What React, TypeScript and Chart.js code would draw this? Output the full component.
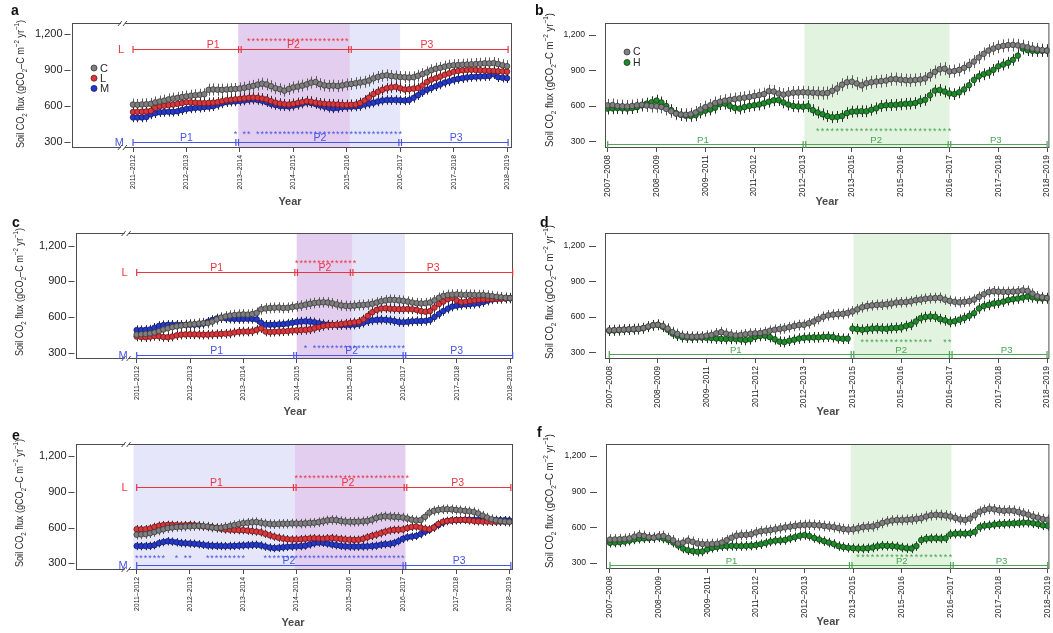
import { useEffect, useRef } from 'react';
import { Chart, registerables } from 'chart.js';

Chart.register(...registerables);

const FONT = '"Liberation Sans", Arial, Helvetica, sans-serif';
Chart.defaults.font.family = FONT;

// ---------- tick labels ----------
const SEASONS_11_19 = ['2011–2012', '2012–2013', '2013–2014', '2014–2015', '2015–2016', '2016–2017', '2017–2018', '2018–2019'];
const SEASONS_07_19 = ['2007–2008', '2008–2009', '2009–2011', '2011–2012', '2012–2013', '2013–2015', '2015–2016', '2016–2017', '2017–2018', '2018–2019'];
const Y_TICKS = [300, 600, 900, 1200];

// ---------- panel a (monthly, C / L / M) ----------
const aC = [
  612, 610, 613, 615, 618, 630, 638, 645, 655, 662, 668, 675,
  680, 686, 690, 694, 698, 735, 738, 736, 735, 738, 740, 742,
  746, 752, 760, 768, 778, 786, 780, 765, 748, 740, 728, 742,
  755, 762, 770, 780, 795, 800, 782, 772, 768, 770, 766, 772,
  780, 784, 790, 796, 802, 812, 830, 842, 852, 856, 850, 846,
  842, 840, 838, 840, 852, 866, 880, 898, 910, 918, 928, 936,
  940, 942, 944, 946, 948, 950, 952, 956, 955, 958, 950, 940, 932,
];
const aL = [
  550, 552, 553, 555, 560, 585, 598, 602, 608, 612, 618, 625,
  632, 630, 628, 625, 624, 626, 628, 632, 640, 648, 652, 656,
  660, 664, 668, 670, 668, 662, 655, 640, 628, 620, 615, 612,
  618, 625, 632, 640, 636, 628, 622, 618, 615, 614, 612, 610,
  608, 610, 612, 625, 645, 670, 700, 718, 735, 748, 755, 760,
  748, 738, 740, 745, 750, 770, 800, 820, 832, 845, 860, 872,
  885, 892, 898, 900, 902, 900, 898, 896, 894, 892, 890, 888, 886,
];
const aM = [
  505, 504, 505, 508, 530, 540, 548, 550, 552, 552, 556, 566,
  575, 580, 584, 586, 590, 594, 598, 610, 622, 632, 636, 638,
  642, 646, 652, 654, 650, 644, 632, 618, 608, 600, 598, 596,
  602, 610, 620, 630, 626, 616, 605, 595, 585, 580, 584, 590,
  592, 594, 596, 600, 612, 620, 628, 638, 646, 650, 650, 650,
  648, 646, 650, 668, 690, 715, 735, 750, 765, 780, 795, 806,
  818, 826, 832, 838, 842, 844, 846, 848, 850, 865, 840, 836, 832,
];

// ---------- panel c ----------
const cC = [
  452, 455, 458, 462, 470, 482, 495, 505, 515, 522, 528, 533,
  538, 540, 545, 548, 550, 562, 580, 595, 605, 612, 617, 620,
  622, 620, 625, 635, 665, 672, 676, 678, 680, 676, 678, 684,
  690, 696, 704, 712, 718, 722, 724, 722, 715, 706, 698, 694,
  692, 696, 700, 702, 705, 712, 722, 732, 740, 745, 744, 740,
  736, 730, 722, 716, 714, 716, 722, 740, 762, 778, 785, 788,
  790, 788, 786, 787, 786, 784, 785, 780, 776, 770, 766, 762, 760,
];
const cL = [
  436, 432, 430, 434, 440, 438, 432, 430, 436, 446, 452, 454,
  455, 454, 453, 452, 452, 454, 456, 458, 460, 462, 470, 476,
  478, 478, 480, 492, 505, 478, 474, 476, 478, 480, 482, 486,
  488, 490, 492, 496, 505, 515, 525, 530, 534, 536, 540, 545,
  550, 555, 560, 580, 610, 640, 660, 672, 674, 670, 668, 666,
  666, 668, 665, 660, 650, 645, 650, 680, 710, 730, 750, 762,
  740, 725, 728, 735, 740, 745, 748, 750, 752, 754, 755, 756, 758,
];
const cM = [
  490, 490, 492, 495, 510, 525, 532, 534, 535, 535, 534, 534,
  535, 536, 538, 545, 560, 575, 588, 592, 590, 586, 584, 583,
  584, 585, 584, 580, 552, 535, 535, 536, 538, 540, 545, 552,
  558, 562, 564, 562, 556, 548, 540, 536, 534, 532, 532, 533,
  534, 536, 540, 552, 565, 572, 576, 578, 576, 572, 566, 558,
  556, 560, 564, 566, 566, 568, 575, 600, 625, 650, 670, 688,
  696, 702, 706, 708, 712, 715, 725, 738, 748, 752, 755, 757, 758,
];

// ---------- panel e ----------
const eC = [
  540, 542, 545, 552, 562, 575, 585, 595, 600, 604, 606, 608,
  610, 612, 614, 612, 608, 600, 596, 598, 605, 612, 620, 628,
  636, 640, 644, 646, 640, 634, 630, 628, 630, 632, 632, 634,
  634, 633, 635, 638, 640, 645, 652, 660, 664, 662, 655, 650,
  648, 648, 650, 652, 656, 665, 680, 690, 694, 692, 690, 688,
  684, 676, 666, 660, 662, 690, 725, 740, 748, 752, 754, 752,
  748, 744, 740, 736, 730, 718, 700, 684, 670, 660, 654, 650, 648,
];
const eL = [
  586, 585, 586, 592, 605, 615, 620, 622, 622, 620, 618, 620,
  622, 620, 616, 610, 606, 604, 598, 590, 584, 582, 580, 578,
  578, 574, 570, 566, 560, 548, 535, 524, 515, 508, 502, 500,
  500, 502, 505, 508, 510, 508, 506, 510, 512, 508, 504, 500,
  498, 496, 498, 505, 518, 530, 540, 552, 565, 575, 580, 582,
  584, 595, 605, 608, 600, 590, 585, 600, 630, 648, 655, 660,
  662, 664, 665, 660, 655, 652, 650, 650, 648, 648, 648, 648, 648,
];
const eM = [
  445, 444, 445, 446, 452, 468, 478, 485, 482, 476, 470, 468,
  466, 464, 460, 455, 450, 448, 446, 445, 444, 445, 446, 448,
  450, 452, 454, 455, 450, 440, 432, 428, 430, 434, 438, 440,
  442, 444, 448, 458, 468, 474, 472, 466, 458, 452, 446, 442,
  440, 440, 440, 441, 442, 444, 448, 455, 460, 462, 470, 485,
  505, 518, 524, 530, 545, 565, 580, 600, 620, 640, 655, 660,
  662, 664, 665, 666, 665, 664, 662, 662, 662, 663, 662, 662, 660,
];

// ---------- panel b (C / H) ----------
const bC = [
  605, 608, 600, 598, 596, 600, 606, 610, 604, 600,
  598, 592, 575, 555, 535, 528, 526, 530, 545, 570,
  590, 605, 625, 636, 645, 652, 658, 664, 670, 676,
  684, 692, 700, 725, 722, 705, 696, 705, 712, 714,
  716, 714, 712, 710, 708, 710, 728, 748, 780, 800,
  805, 790, 775, 792, 800, 806, 810, 815, 826, 828,
  822, 818, 816, 820, 824, 832, 860, 888, 910, 915,
  892, 895, 905, 922, 945, 975, 1010, 1040, 1068, 1085,
  1100, 1108, 1114, 1116, 1112, 1105, 1095, 1085, 1078, 1072, 1068,
];
const bH = [
  578, 580, 582, 580, 578, 582, 590, 605, 620, 632,
  645, 630, 600, 565, 540, 525, 518, 516, 522, 545,
  560, 570, 585, 615, 620, 600, 584, 578, 590, 600,
  606, 612, 622, 636, 648, 650, 630, 612, 600, 596,
  594, 598, 565, 545, 530, 515, 505, 508, 515, 540,
  552, 554, 556, 555, 568, 580, 600, 606, 608, 610,
  614, 618, 620, 625, 640, 652, 690, 730, 735, 722,
  706, 700, 715, 740, 775, 820, 850, 868, 880, 905,
  935, 950, 965, 990, 1025, 1085, 1072, 1066, 1065, 1066, 1068,
];

// ---------- panel d ----------
const dC = [
  486, 488, 490, 492, 494, 496, 498, 505, 518, 528,
  532, 522, 500, 470, 455, 440, 434, 432, 432, 434,
  440, 446, 460, 470, 458, 450, 442, 446, 452, 458,
  460, 462, 470, 482, 490, 496, 502, 512, 522, 530,
  532, 545, 560, 580, 600, 612, 618, 622, 624, 632,
  645, 662, 680, 690, 696, 700, 702, 706, 712, 720,
  722, 724, 730, 740, 745, 752, 756, 758, 760, 745,
  734, 726, 722, 726, 732, 745, 768, 790, 808, 815,
  812, 810, 810, 812, 814, 822, 818, 795, 772, 765, 758,
];
const dH = [
  482, 484, 486, 490, 492, 494, 496, 502, 515, 528,
  532, 515, 490, 458, 440, 428, 424, 422, 424, 424,
  422, 420, 416, 414, 412, 414, 412, 408, 404, 410,
  430, 438, 440, 428, 410, 390, 386, 398, 406, 416,
  422, 424, 426, 426, 430, 432, 428, 418, 414, 415,
  500, 495, 490, 495, 500, 502, 500, 498, 504, 506,
  510, 522, 532, 560, 588, 598, 602, 600, 580, 570,
  556, 562, 575, 590, 608, 630, 670, 690, 700, 712,
  718, 728, 740, 748, 754, 762, 770, 764, 756, 754, 756,
];

// ---------- panel f ----------
const fC = [
  495, 496, 498, 500, 505, 520, 532, 526, 515, 512,
  522, 525, 508, 488, 462, 470, 486, 476, 462, 458,
  456, 458, 460, 470, 490, 510, 528, 534, 535, 540,
  555, 565, 570, 575, 582, 590, 598, 604, 610, 616,
  618, 620, 618, 615, 610, 605, 600, 592, 584, 580,
  582, 590, 600, 604, 606, 618, 635, 648, 656, 660,
  660, 662, 665, 670, 675, 690, 700, 704, 702, 698,
  690, 678, 665, 660, 672, 700, 730, 745, 755, 750,
  742, 738, 740, 738, 728, 716, 705, 690, 680, 668, 662,
];
const fH = [
  468, 470, 472, 478, 486, 496, 502, 505, 506, 510,
  514, 505, 490, 470, 445, 420, 405, 398, 392, 395,
  412, 425, 432, 438, 440, 442, 441, 440, 442, 444,
  448, 456, 466, 478, 486, 488, 492, 505, 515, 526,
  533, 525, 508, 496, 482, 470, 458, 440, 432, 426,
  422, 420, 420, 422, 428, 438, 444, 442, 440, 436,
  428, 422, 420, 440, 490, 502, 505, 506, 504, 506,
  540, 545, 546, 545, 548, 560, 600, 612, 615, 622,
  626, 628, 630, 632, 634, 638, 638, 632, 625, 615, 610,
];

// ---------- styles ----------
type Mark = { fill: string; edge: string; bar: string };
const GREY: Mark = { fill: '#7f7f7f', edge: '#383838', bar: '#5c5c5c' };
const RED_M: Mark = { fill: '#d8373c', edge: '#6e1616', bar: '#2b2b2b' };
const BLUE_M: Mark = { fill: '#2539c8', edge: '#111a6c', bar: '#2b2b2b' };
const GREEN_M: Mark = { fill: '#208a2c', edge: '#0c3e12', bar: '#2b2b2b' };

const RED = '#e8363f';
const BLUE = '#4855e4';
const GREEN = '#4ba553';
const PURPLE_BAND = '#e4cef0';
const LAVENDER_BAND = '#e6e6fb';
const GREEN_BAND = '#e2f3df';
const AXIS = '#4d4d4d';

type Series = { name: string; values: number[]; err: number; mark: Mark };
type Bracket = { tag?: string; y: number; color: string; stops: number[]; doubles: number[]; labels: [string, number][] };
type StarRow = { y: number; color: string; ranges: [number, number][] };
type Band = { from: number; to: number; color: string };
type Box = { left: number; top: number; width: number; height: number };
type Area = { left: number; top: number; right: number; bottom: number };

interface PanelDef {
  letter: string;
  letterAt: [number, number];
  canvas: Box;
  area: Area;
  xRange: [number, number];
  yRange: [number, number];
  perUnit: number;
  labels: string[];
  series: Series[];
  bands: Band[];
  brackets: Bracket[];
  stars: StarRow[];
  legendAt?: [number, number, number];
  titleAt: [number, number];
  yearAt: [number, number];
  breakAt?: number;
  right: boolean;
}

// yGap: space between the y tick dash and the frame; yDash: dash length
const LEFT_FONTS = { xTick: 6.9, yTick: 11, p: 10.5, tag: 11, legend: 11, star: 9, xTickLen: 4, xPad: 3, yGap: 1.5, yDash: 6, yPad: 2, titleLen: 128, legendDot: 3 };
const RIGHT_FONTS = { xTick: 8.4, yTick: 8.6, p: 9.6, tag: 10, legend: 10.5, star: 9, xTickLen: 4, xPad: 3, yGap: 9, yDash: 7, yPad: 4, titleLen: 134, legendDot: 3 };

const PANELS: PanelDef[] = [
  {
    letter: 'a', letterAt: [11, 15], right: false,
    canvas: { left: 0, top: 0, width: 527, height: 212 },
    area: { left: 72, top: 23, right: 512, bottom: 148 },
    xRange: [-1.142, 7.093], yRange: [250, 1292], perUnit: 12, labels: SEASONS_11_19,
    series: [
      { name: 'C', values: aC, err: 50, mark: GREY },
      { name: 'L', values: aL, err: 45, mark: RED_M },
      { name: 'M', values: aM, err: 40, mark: BLUE_M },
    ],
    bands: [{ from: 1.97, to: 4.06, color: PURPLE_BAND }, { from: 4.06, to: 5.0, color: LAVENDER_BAND }],
    brackets: [
      { tag: 'L', y: 1075, color: RED, stops: [0, 2.0, 4.06, 7.02], doubles: [1, 2], labels: [['P1', 1.5], ['P2', 3.0], ['P3', 5.5]] },
      { tag: 'M', y: 300, color: BLUE, stops: [0, 1.95, 5.0, 7.02], doubles: [1, 2], labels: [['P1', 1.0], ['P2', 3.5], ['P3', 6.05]] },
    ],
    stars: [
      { y: 1165, color: RED, ranges: [[26, 48]] },
      { y: 385, color: BLUE, ranges: [[23, 23], [25, 26], [28, 60]] },
    ],
    legendAt: [94, 68, 10.2],
    titleAt: [20, 84], yearAt: [290, 202], breakAt: -0.17,
  },
  {
    letter: 'b', letterAt: [535, 15], right: true,
    canvas: { left: 527, top: 0, width: 526, height: 212 },
    area: { left: 605, top: 23, right: 1050, bottom: 148 },
    xRange: [-0.055, 9.047], yRange: [245, 1301], perUnit: 10, labels: SEASONS_07_19,
    series: [
      { name: 'C', values: bC, err: 55, mark: GREY },
      { name: 'H', values: bH, err: 50, mark: GREEN_M },
    ],
    bands: [{ from: 4.03, to: 7.0, color: GREEN_BAND }],
    brackets: [
      { y: 282, color: GREEN, stops: [0, 4.03, 7.0, 9.0], doubles: [1, 2], labels: [['P1', 1.95], ['P2', 5.5], ['P3', 7.95]] },
    ],
    stars: [{ y: 407, color: GREEN, ranges: [[43, 70]] }],
    legendAt: [627, 52, 10.5],
    titleAt: [549, 80], yearAt: [827, 202],
  },
  {
    letter: 'c', letterAt: [12, 227], right: false,
    canvas: { left: 0, top: 212, width: 527, height: 211 },
    area: { left: 76, top: 233, right: 513, bottom: 359 },
    xRange: [-1.138, 7.056], yRange: [247, 1307], perUnit: 12, labels: SEASONS_11_19,
    series: [
      { name: 'C', values: cC, err: 45, mark: GREY },
      { name: 'L', values: cL, err: 40, mark: RED_M },
      { name: 'M', values: cM, err: 40, mark: BLUE_M },
    ],
    bands: [{ from: 3.0, to: 4.05, color: PURPLE_BAND }, { from: 4.05, to: 5.03, color: LAVENDER_BAND }],
    brackets: [
      { tag: 'L', y: 978, color: RED, stops: [0, 2.99, 4.03, 7.05], doubles: [1, 2], labels: [['P1', 1.5], ['P2', 3.53], ['P3', 5.56]] },
      { tag: 'M', y: 281, color: BLUE, stops: [0, 2.97, 5.02, 7.05], doubles: [1, 2], labels: [['P1', 1.5], ['P2', 4.03], ['P3', 6.0]] },
    ],
    stars: [
      { y: 1074, color: RED, ranges: [[36, 49]] },
      { y: 356, color: BLUE, ranges: [[38, 38], [40, 60]] },
    ],
    titleAt: [19, 292], yearAt: [295, 412], breakAt: -0.17,
  },
  {
    letter: 'd', letterAt: [540, 227], right: true,
    canvas: { left: 527, top: 212, width: 526, height: 211 },
    area: { left: 605, top: 233, right: 1050, bottom: 359 },
    xRange: [-0.088, 9.048], yRange: [243.4, 1307], perUnit: 10, labels: SEASONS_07_19,
    series: [
      { name: 'C', values: dC, err: 45, mark: GREY },
      { name: 'H', values: dH, err: 45, mark: GREEN_M },
    ],
    bands: [{ from: 5.02, to: 7.03, color: GREEN_BAND }],
    brackets: [
      { y: 286, color: GREEN, stops: [0, 5.0, 7.02, 9.0], doubles: [1, 2], labels: [['P1', 2.6], ['P2', 6.0], ['P3', 8.17]] },
    ],
    stars: [{ y: 410, color: GREEN, ranges: [[52, 66], [69, 70]] }],
    titleAt: [549, 292], yearAt: [828, 412],
  },
  {
    letter: 'e', letterAt: [12, 440], right: false,
    canvas: { left: 0, top: 423, width: 527, height: 210 },
    area: { left: 76, top: 444, right: 513, bottom: 570 },
    xRange: [-1.14, 7.07], yRange: [243.8, 1300.7], perUnit: 12, labels: SEASONS_11_19,
    series: [
      { name: 'C', values: eC, err: 40, mark: GREY },
      { name: 'L', values: eL, err: 35, mark: RED_M },
      { name: 'M', values: eM, err: 35, mark: BLUE_M },
    ],
    bands: [{ from: -0.06, to: 2.97, color: LAVENDER_BAND }, { from: 2.97, to: 5.05, color: PURPLE_BAND }],
    brackets: [
      { tag: 'L', y: 943, color: RED, stops: [0, 2.97, 5.05, 7.03], doubles: [1, 2], labels: [['P1', 1.5], ['P2', 3.97], ['P3', 6.03]] },
      { tag: 'M', y: 286, color: BLUE, stops: [0, 5.03, 7.03], doubles: [1], labels: [['P2', 2.86], ['P3', 6.06]] },
    ],
    stars: [
      { y: 1032, color: RED, ranges: [[36, 61]] },
      { y: 361, color: BLUE, ranges: [[0, 6], [9, 9], [11, 12], [16, 24], [29, 60]] },
    ],
    titleAt: [19, 503], yearAt: [293, 623], breakAt: -0.17,
  },
  {
    letter: 'f', letterAt: [537, 437], right: true,
    canvas: { left: 527, top: 423, width: 526, height: 210 },
    area: { left: 606, top: 444, right: 1050, bottom: 569 },
    xRange: [-0.082, 9.035], yRange: [246.9, 1301], perUnit: 10, labels: SEASONS_07_19,
    series: [
      { name: 'C', values: fC, err: 45, mark: GREY },
      { name: 'H', values: fH, err: 40, mark: GREEN_M },
    ],
    bands: [{ from: 4.95, to: 7.02, color: GREEN_BAND }],
    brackets: [
      { y: 280, color: GREEN, stops: [0, 4.95, 7.03, 9.0], doubles: [1, 2], labels: [['P1', 2.5], ['P2', 6.0], ['P3', 8.05]] },
    ],
    stars: [{ y: 365, color: GREEN, ranges: [[51, 70]] }],
    titleAt: [549, 501], yearAt: [828, 622],
  },
];

// Rotated y-axis title with sub- and superscripts
function drawYTitle(ctx: CanvasRenderingContext2D, cx: number, cy: number, size: number, len: number) {
  const small = size * 0.68;
  const parts: [string, number][] = [
    ['Soil CO', 0], ['2', 1], [' flux (gCO', 0], ['2', 1], ['–C m', 0], ['−2', -1], [' yr', 0], ['−1', -1], [')', 0],
  ];
  const fontOf = (k: number) => `${k === 0 ? size : small}px ${FONT}`;
  let total = 0;
  const widths = parts.map(([t, k]) => {
    ctx.font = fontOf(k);
    const w = ctx.measureText(t).width;
    total += w;
    return w;
  });
  ctx.save();
  ctx.translate(cx, cy);
  ctx.rotate(-Math.PI / 2);
  ctx.scale(len / total, 1);
  ctx.fillStyle = '#2a2a2a';
  ctx.textAlign = 'left';
  ctx.textBaseline = 'alphabetic';
  let x = -total / 2;
  parts.forEach(([t, k], i) => {
    ctx.font = fontOf(k);
    const dy = k === 1 ? size * 0.3 : k === -1 ? -size * 0.42 : 0;
    ctx.fillText(t, x, size * 0.36 + dy);
    x += widths[i];
  });
  ctx.restore();
}

function makeDecor(def: PanelDef) {
  const ox = def.canvas.left;
  const oy = def.canvas.top;
  const fs = def.right ? RIGHT_FONTS : LEFT_FONTS;
  return {
    id: 'decor_' + def.letter,
    beforeDatasetsDraw(chart: Chart) {
      const { ctx, chartArea: a } = chart;
      const xs = chart.scales.x;
      const ys = chart.scales.y;
      ctx.save();
      // treatment-period shading
      for (const b of def.bands) {
        const x0 = Math.max(a.left, xs.getPixelForValue(b.from));
        const x1 = Math.min(a.right, xs.getPixelForValue(b.to));
        ctx.fillStyle = b.color;
        ctx.fillRect(x0, a.top, x1 - x0, a.bottom - a.top);
      }
      // error bars
      ctx.lineWidth = 1;
      for (const s of def.series) {
        ctx.strokeStyle = s.mark.bar;
        ctx.beginPath();
        s.values.forEach((v, i) => {
          const x = Math.round(xs.getPixelForValue(i / def.perUnit)) + 0.5;
          ctx.moveTo(x, ys.getPixelForValue(v + s.err));
          ctx.lineTo(x, ys.getPixelForValue(v - s.err));
        });
        ctx.stroke();
      }
      ctx.restore();
    },
    afterDraw(chart: Chart) {
      const { ctx, chartArea: a } = chart;
      const xs = chart.scales.x;
      const ys = chart.scales.y;
      ctx.save();

      // plot frame
      ctx.strokeStyle = AXIS;
      ctx.lineWidth = 1;
      ctx.strokeRect(a.left + 0.5, a.top + 0.5, a.right - a.left - 1, a.bottom - a.top - 1);

      // detached y tick dashes
      ctx.beginPath();
      for (const v of Y_TICKS) {
        const y = Math.round(ys.getPixelForValue(v)) + 0.5;
        ctx.moveTo(a.left - fs.yGap - fs.yDash, y);
        ctx.lineTo(a.left - fs.yGap, y);
      }
      ctx.stroke();

      // axis break marks
      if (def.breakAt !== undefined) {
        const bx = xs.getPixelForValue(def.breakAt);
        for (const y of [a.top + 0.5, a.bottom - 0.5]) {
          ctx.fillStyle = '#ffffff';
          ctx.fillRect(bx - 3, y - 2, 4, 4);
          ctx.beginPath();
          ctx.moveTo(bx - 6, y + 2.5);
          ctx.lineTo(bx - 2, y - 2.5);
          ctx.moveTo(bx - 1, y + 2.5);
          ctx.lineTo(bx + 3, y - 2.5);
          ctx.strokeStyle = AXIS;
          ctx.stroke();
        }
      }

      // period brackets
      for (const b of def.brackets) {
        const y = Math.round(ys.getPixelForValue(b.y)) + 0.5;
        const px = b.stops.map((s) => xs.getPixelForValue(s));
        ctx.strokeStyle = b.color;
        ctx.fillStyle = b.color;
        ctx.lineWidth = 1.2;
        ctx.beginPath();
        ctx.moveTo(px[0], y);
        ctx.lineTo(px[px.length - 1], y);
        px.forEach((x, k) => {
          const offs = b.doubles.includes(k) ? [-1.3, 1.3] : [0];
          for (const o of offs) {
            ctx.moveTo(x + o, y - 3.5);
            ctx.lineTo(x + o, y + 3.5);
          }
        });
        ctx.stroke();
        ctx.font = `${fs.p}px ${FONT}`;
        ctx.textAlign = 'center';
        ctx.textBaseline = 'alphabetic';
        for (const [t, v] of b.labels) ctx.fillText(t, xs.getPixelForValue(v), y - 2);
        if (b.tag) {
          ctx.font = `${fs.tag}px ${FONT}`;
          ctx.textAlign = 'right';
          ctx.textBaseline = 'middle';
          ctx.fillText(b.tag, px[0] - 9, y);
        }
      }

      // significance stars
      ctx.font = `${fs.star}px ${FONT}`;
      ctx.textAlign = 'center';
      ctx.textBaseline = 'alphabetic';
      for (const s of def.stars) {
        ctx.fillStyle = s.color;
        const y = ys.getPixelForValue(s.y) + fs.star * 0.6;
        for (const [i0, i1] of s.ranges) {
          for (let i = i0; i <= i1; i++) ctx.fillText('*', xs.getPixelForValue(i / def.perUnit), y);
        }
      }

      // legend
      if (def.legendAt) {
        const [lx, ly, step] = def.legendAt;
        ctx.font = `${fs.legend}px ${FONT}`;
        ctx.textAlign = 'left';
        ctx.textBaseline = 'middle';
        def.series.forEach((s, k) => {
          const cx = lx - ox;
          const cy = ly - oy + k * step;
          ctx.beginPath();
          ctx.arc(cx, cy, fs.legendDot, 0, Math.PI * 2);
          ctx.fillStyle = s.mark.fill;
          ctx.fill();
          ctx.lineWidth = 0.8;
          ctx.strokeStyle = s.mark.edge;
          ctx.stroke();
          ctx.fillStyle = '#2a2a2a';
          ctx.fillText(s.name, cx + 6, cy + 0.5);
        });
      }

      // axis titles and panel letter
      drawYTitle(ctx, def.titleAt[0] - ox, def.titleAt[1] - oy, 11, fs.titleLen);
      ctx.font = `bold 11px ${FONT}`;
      ctx.fillStyle = '#4a4a4a';
      ctx.textAlign = 'center';
      ctx.textBaseline = 'middle';
      ctx.fillText('Year', def.yearAt[0] - ox, def.yearAt[1] - oy);
      ctx.font = `bold 14px ${FONT}`;
      ctx.fillStyle = '#111111';
      ctx.textAlign = 'left';
      ctx.textBaseline = 'alphabetic';
      ctx.fillText(def.letter, def.letterAt[0] - ox, def.letterAt[1] - oy);
      ctx.restore();
    },
  };
}

function Panel({ def }: { def: PanelDef }) {
  const ref = useRef<HTMLCanvasElement | null>(null);
  useEffect(() => {
    const canvas = ref.current;
    if (!canvas) return;
    const fs = def.right ? RIGHT_FONTS : LEFT_FONTS;
    const yW = def.area.left - def.canvas.left;
    const xH = def.canvas.top + def.canvas.height - def.area.bottom;
    const chart = new Chart(canvas, {
      type: 'scatter',
      data: {
        datasets: def.series.map((s) => ({
          label: s.name,
          data: s.values.map((v, i) => ({ x: i / def.perUnit, y: v })),
          showLine: false,
          pointRadius: 2.8,
          pointHoverRadius: 2.8,
          pointBorderWidth: 0.8,
          pointBackgroundColor: s.mark.fill,
          pointBorderColor: s.mark.edge,
          backgroundColor: s.mark.fill,
          borderColor: s.mark.edge,
        })),
      },
      options: {
        responsive: false,
        animation: false,
        devicePixelRatio: 1,
        events: [],
        layout: {
          padding: {
            left: 0,
            bottom: 0,
            top: def.area.top - def.canvas.top,
            right: def.canvas.left + def.canvas.width - def.area.right,
          },
        },
        plugins: { legend: { display: false }, tooltip: { enabled: false } },
        scales: {
          x: {
            type: 'linear',
            min: def.xRange[0],
            max: def.xRange[1],
            afterBuildTicks: (ax: any) => {
              ax.ticks = def.labels.map((_, i) => ({ value: i }));
            },
            afterFit: (ax: any) => {
              ax.height = xH;
              ax.paddingLeft = 0;
              ax.paddingRight = 0;
            },
            ticks: {
              autoSkip: false,
              minRotation: 90,
              maxRotation: 90,
              padding: fs.xPad,
              color: '#222222',
              font: { size: fs.xTick, family: FONT },
              callback: (v: any) => def.labels[Math.round(Number(v))] ?? '',
            },
            grid: { drawOnChartArea: false, drawTicks: true, tickLength: fs.xTickLen, color: AXIS },
            border: { display: false },
          },
          y: {
            type: 'linear',
            min: def.yRange[0],
            max: def.yRange[1],
            afterBuildTicks: (ax: any) => {
              ax.ticks = Y_TICKS.map((v) => ({ value: v }));
            },
            afterFit: (ax: any) => {
              ax.width = yW;
              ax.paddingTop = 0;
              ax.paddingBottom = 0;
            },
            ticks: {
              padding: fs.yPad,
              color: '#222222',
              font: { size: fs.yTick, family: FONT },
              callback: (v: any) => Number(v).toLocaleString('en-US'),
            },
            // tick space is reserved here; the visible dashes are drawn by the decor plugin
            grid: {
              drawOnChartArea: false,
              drawTicks: true,
              tickLength: fs.yGap + fs.yDash,
              color: AXIS,
              tickColor: 'rgba(0,0,0,0)',
            },
            border: { display: false },
          },
        },
      },
      plugins: [makeDecor(def) as any],
    });
    return () => chart.destroy();
  }, [def]);
  const c = def.canvas;
  return (
    <canvas
      ref={ref}
      width={c.width}
      height={c.height}
      style={{ position: 'absolute', left: c.left, top: c.top, width: c.width, height: c.height }}
    />
  );
}

export default function App() {
  return (
    <div style={{ position: 'absolute', left: 0, top: 0, width: 1053, height: 633, background: '#ffffff', overflow: 'hidden' }}>
      {PANELS.map((p) => (
        <Panel key={p.letter} def={p} />
      ))}
    </div>
  );
}
